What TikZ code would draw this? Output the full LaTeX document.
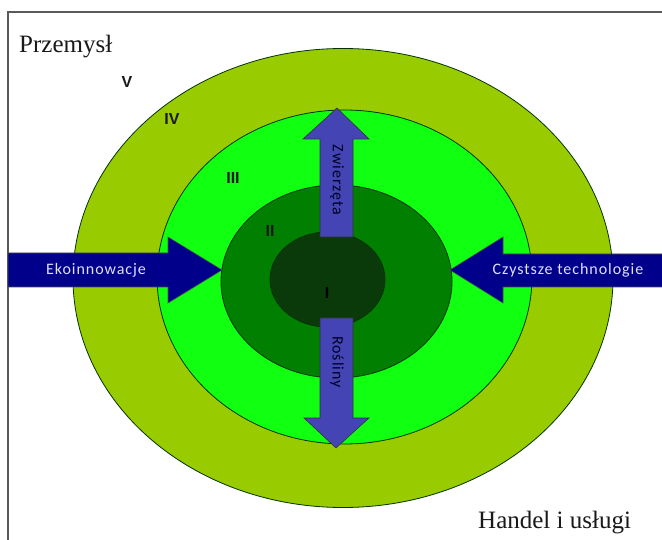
\documentclass[tikz,border=0pt]{standalone}
\usepackage{fontspec}
\setmainfont{Liberation Serif}
\newfontfamily\lblfont[LetterSpace=6]{Carlito}
\newfontfamily\numfont[BoldFont={Liberation Sans Bold}]{Liberation Sans}
\usetikzlibrary{shapes.geometric}
\definecolor{ringfive}{HTML}{99CC00}
\definecolor{ringthree}{HTML}{11FF11}
\definecolor{ringtwo}{HTML}{007F00}
\definecolor{ringone}{HTML}{0A3A0A}
\definecolor{navyarrow}{HTML}{00008B}
\definecolor{bluearrow}{HTML}{4444B4}
\tikzset{
  ring/.style={ellipse, draw=black!80!green, line width=0.8pt, inner sep=0pt, outer sep=0pt},
  harrow/.style={fill=navyarrow, draw=black!70, line width=0.6pt},
  varrow/.style={fill=bluearrow, draw=black!80, line width=0.6pt},
  hlabel/.style={text=white!88!blue, font=\lblfont\fontsize{16}{18}\selectfont},
  vlabel/.style={text=black!85!blue, font=\lblfont\fontsize{16}{18}\selectfont, rotate=-90},
  numlabel/.style={font=\numfont\fontsize{16}{18}\selectfont\bfseries, text=black!90},
  bigtext/.style={font=\fontsize{25}{28}\selectfont, text=black!90}
}
\begin{document}
\begin{tikzpicture}[x=1pt,y=-1pt]
\useasboundingbox (0,0) rectangle (662,540);
\fill[white] (0,0) rectangle (662,540);
% frame
\draw[black!65, line width=1.2pt] (8,540) -- (8,12) -- (662,12);
% rings
\node[ring, fill=ringfive, minimum width=540pt, minimum height=459pt] (r5) at (343,278) {};
\node[ring, fill=ringthree, minimum width=375pt, minimum height=334pt] (r3) at (344.5,277) {};
\node[ring, fill=ringtwo, minimum width=231pt, minimum height=193pt] (r2) at (336.5,281.5) {};
\node[ring, fill=ringone, minimum width=115pt, minimum height=95pt] (r1) at (327.5,279.5) {};
% horizontal arrows
\draw[harrow] (8,253) -- (168,253) -- (168,237) -- (222,270) -- (168,303) -- (168,287) -- (8,287) -- cycle;
\draw[harrow] (663,254) -- (503,254) -- (503,237) -- (450,270) -- (503,303) -- (503,287) -- (663,287) -- cycle;
% vertical arrows
\draw[varrow] (320,237) -- (320,139) -- (303,139) -- (337,108) -- (369,139) -- (353,139) -- (353,237) -- cycle;
\draw[varrow] (320,318) -- (320,418) -- (304,418) -- (336,448) -- (369,418) -- (353,418) -- (353,318) -- cycle;
% arrow labels
\node[hlabel] (eko) at (96,270) {Ekoinnowacje};
\node[hlabel] (czy) at (568,270) {Czystsze technologie};
\node[vlabel] (zwi) at (337,180) {Zwierzęta};
\node[vlabel] (ros) at (337,362) {Rośliny};
% numerals
\node[numlabel] (n5) at (127,82) {V};
\node[numlabel] (n4) at (172,119) {IV};
\node[numlabel] (n3) at (233,178) {III};
\node[numlabel] (n2) at (270,231) {II};
\node[numlabel, text=black] (n1) at (327,293) {I};
% corner texts
\node[bigtext, anchor=base west, inner sep=0pt] (prz) at (19,53) {Przemysł};
\node[bigtext, anchor=base west, inner sep=0pt] (han) at (478,528) {Handel i usługi};
\end{tikzpicture}
\end{document}
